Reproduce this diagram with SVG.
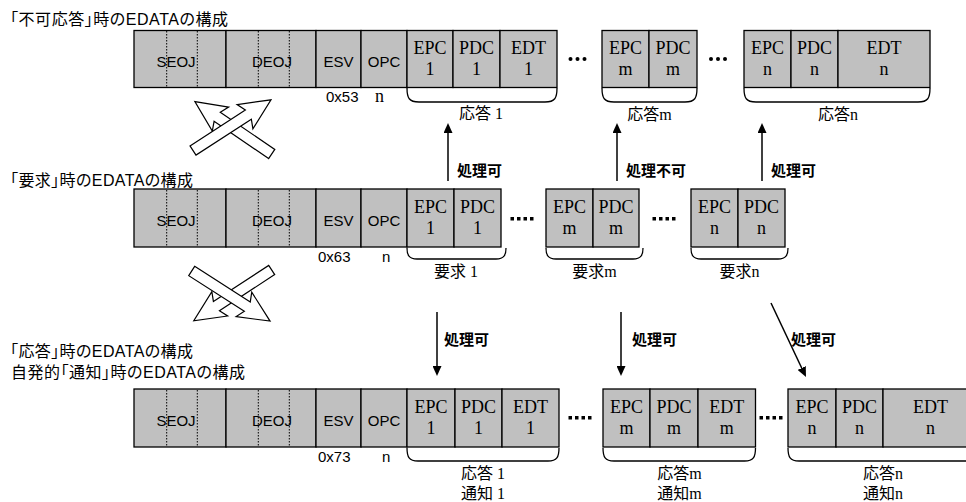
<svg xmlns="http://www.w3.org/2000/svg" width="966" height="502" viewBox="0 0 966 502">
<style>
.cell{fill:#c0c0c0;stroke:#000;stroke-width:1.3}
.dl{stroke:#000;stroke-width:1;stroke-dasharray:1.5 1.5}
.hd{font-family:"Liberation Sans",Arial,sans-serif;font-size:15px;fill:#000;text-anchor:middle}
.sub{font-family:"Liberation Sans",Arial,sans-serif;font-size:15px;fill:#000}
.ser{font-family:"Liberation Serif","Noto Sans CJK JP",serif;font-size:18px;fill:#000;text-anchor:middle}
.sern{font-family:"Liberation Serif",serif;font-size:18px;fill:#000}
.ttl{font-family:"Liberation Sans","Noto Sans CJK JP",sans-serif;font-size:16px;fill:#000;font-feature-settings:"palt"}
.jl{font-family:"Liberation Serif","Noto Sans CJK JP",serif;font-size:16px;fill:#000;text-anchor:middle}
.jb{font-family:"Noto Sans CJK JP",sans-serif;font-size:15px;font-weight:bold;fill:#000}
.brace{fill:none;stroke:#000;stroke-width:1.3}
.arr{stroke:#000;stroke-width:1.5;fill:none;marker-end:url(#ah)}
.hol{fill:#fff;stroke:#000;stroke-width:1.2;stroke-linejoin:miter}
.ell{fill:#000}
</style>
<defs>
<marker id="ah" markerUnits="userSpaceOnUse" markerWidth="10" markerHeight="9" viewBox="0 0 10 9" refX="0" refY="4.5" orient="auto">
<path d="M0,0 L10,4.5 L0,9 z" fill="#000"/>
</marker>
<polygon id="blk" points="0,-5.5 66,-5.5 62,-14.5 93,0 62,14.5 66,5.5 0,5.5"/>
</defs>

<g id="titles">
<text class="ttl" x="10" y="25" textLength="218" lengthAdjust="spacing">「不可応答」時のEDATAの構成</text>
<text class="ttl" x="10" y="186" textLength="183" lengthAdjust="spacing">「要求」時のEDATAの構成</text>
<text class="ttl" x="10" y="357" textLength="183" lengthAdjust="spacing">「応答」時のEDATAの構成</text>
<text class="ttl" x="11" y="378" textLength="234" lengthAdjust="spacing">自発的「通知」時のEDATAの構成</text>
</g>

<!-- top row -->
<g id="top-header">
<rect class="cell" x="134" y="30.5" width="92" height="57"/>
<rect class="cell" x="226" y="30.5" width="90" height="57"/>
<rect class="cell" x="316" y="30.5" width="45" height="57"/>
<rect class="cell" x="361" y="30.5" width="46" height="57"/>
<line class="dl" x1="166.7" y1="31" x2="166.7" y2="87"/>
<line class="dl" x1="197.3" y1="31" x2="197.3" y2="87"/>
<line class="dl" x1="258.3" y1="31" x2="258.3" y2="87"/>
<line class="dl" x1="289.3" y1="31" x2="289.3" y2="87"/>
<text class="hd" x="176" y="67">SEOJ</text>
<text class="hd" x="272" y="67">DEOJ</text>
<text class="hd" x="338.5" y="67">ESV</text>
<text class="hd" x="384" y="67">OPC</text>
<text class="sub" x="326" y="102">0x53</text>
<text class="sern" x="375" y="102">n</text>
</g>
<g id="top-prop1">
<rect class="cell" x="407" y="30.5" width="46" height="57"/>
<rect class="cell" x="453" y="30.5" width="47" height="57"/>
<rect class="cell" x="500" y="30.5" width="57" height="57"/>
<text class="ser" x="430" y="54">EPC</text><text class="ser" x="430" y="75">1</text>
<text class="ser" x="476.5" y="54">PDC</text><text class="ser" x="476.5" y="75">1</text>
<text class="ser" x="528.5" y="54">EDT</text><text class="ser" x="528.5" y="75">1</text>
<path class="brace" d="M407,88 C407,98 409,102 419,102 H545 C555,102 557,98 557,88"/>
<text class="jl" x="481" y="119">応答 1</text>
</g>
<g id="top-ell1"><circle class="ell" cx="570.5" cy="59" r="2"/><circle class="ell" cx="577.5" cy="59" r="2"/><circle class="ell" cx="584.5" cy="59" r="2"/></g>
<g id="top-propm">
<rect class="cell" x="602" y="30.5" width="47" height="57"/>
<rect class="cell" x="649" y="30.5" width="48" height="57"/>
<text class="ser" x="625.5" y="54">EPC</text><text class="ser" x="625.5" y="75">m</text>
<text class="ser" x="673" y="54">PDC</text><text class="ser" x="673" y="75">m</text>
<path class="brace" d="M602,88 C602,98 604,102 614,102 H685 C695,102 697,98 697,88"/>
<text class="jl" x="649.5" y="120">応答m</text>
</g>
<g id="top-ell2"><circle class="ell" cx="711" cy="59" r="2"/><circle class="ell" cx="718" cy="59" r="2"/><circle class="ell" cx="725" cy="59" r="2"/></g>
<g id="top-propn">
<rect class="cell" x="744" y="30.5" width="47" height="57"/>
<rect class="cell" x="791" y="30.5" width="47" height="57"/>
<rect class="cell" x="838" y="30.5" width="92" height="57"/>
<text class="ser" x="767.5" y="54">EPC</text><text class="ser" x="767.5" y="75">n</text>
<text class="ser" x="814.5" y="54">PDC</text><text class="ser" x="814.5" y="75">n</text>
<text class="ser" x="884" y="54">EDT</text><text class="ser" x="884" y="75">n</text>
<path class="brace" d="M744,88 C744,98 746,102 756,102 H918 C928,102 930,98 930,88"/>
<text class="jl" x="838" y="120">応答n</text>
</g>

<!-- middle row -->
<g id="mid-header">
<rect class="cell" x="134" y="189" width="92" height="58"/>
<rect class="cell" x="226" y="189" width="90" height="58"/>
<rect class="cell" x="316" y="189" width="45" height="58"/>
<rect class="cell" x="361" y="189" width="46" height="58"/>
<line class="dl" x1="166.7" y1="190" x2="166.7" y2="246"/>
<line class="dl" x1="197.3" y1="190" x2="197.3" y2="246"/>
<line class="dl" x1="258.3" y1="190" x2="258.3" y2="246"/>
<line class="dl" x1="289.3" y1="190" x2="289.3" y2="246"/>
<text class="hd" x="176" y="226">SEOJ</text>
<text class="hd" x="272" y="226">DEOJ</text>
<text class="hd" x="338.5" y="226">ESV</text>
<text class="hd" x="384" y="226">OPC</text>
<text class="sub" x="318" y="262">0x63</text>
<text class="sub" x="382" y="262">n</text>
</g>
<g id="mid-prop1">
<rect class="cell" x="407" y="189" width="47" height="58"/>
<rect class="cell" x="454" y="189" width="47" height="58"/>
<text class="ser" x="430.5" y="213">EPC</text><text class="ser" x="430.5" y="234">1</text>
<text class="ser" x="477.5" y="213">PDC</text><text class="ser" x="477.5" y="234">1</text>
<path class="brace" d="M407,248 C407,255 409,259 417,259 H496 C504,259 506,255 506,248"/>
<text class="jl" x="456" y="277">要求 1</text>
</g>
<g id="mid-ell1"><rect class="ell" x="510.5" y="217" width="3.5" height="3.5"/><rect class="ell" x="517" y="217" width="3.5" height="3.5"/><rect class="ell" x="523.5" y="217" width="3.5" height="3.5"/><rect class="ell" x="530" y="217" width="3.5" height="3.5"/></g>
<g id="mid-propm">
<rect class="cell" x="546" y="189" width="47" height="58"/>
<rect class="cell" x="593" y="189" width="46" height="58"/>
<text class="ser" x="569.5" y="213">EPC</text><text class="ser" x="569.5" y="234">m</text>
<text class="ser" x="616" y="213">PDC</text><text class="ser" x="616" y="234">m</text>
<path class="brace" d="M546,248 C546,255 548,259 556,259 H633 C641,259 643,255 643,248"/>
<text class="jl" x="594.5" y="277">要求m</text>
</g>
<g id="mid-ell2"><rect class="ell" x="652.5" y="217" width="3.5" height="3.5"/><rect class="ell" x="659" y="217" width="3.5" height="3.5"/><rect class="ell" x="665.5" y="217" width="3.5" height="3.5"/><rect class="ell" x="672" y="217" width="3.5" height="3.5"/></g>
<g id="mid-propn">
<rect class="cell" x="691" y="189" width="47" height="58"/>
<rect class="cell" x="738" y="189" width="47" height="58"/>
<text class="ser" x="714.5" y="213">EPC</text><text class="ser" x="714.5" y="234">n</text>
<text class="ser" x="761.5" y="213">PDC</text><text class="ser" x="761.5" y="234">n</text>
<path class="brace" d="M691,248 C691,255 693,259 701,259 H778 C786,259 788,255 788,248"/>
<text class="jl" x="739.5" y="277">要求n</text>
</g>

<!-- bottom row -->
<g id="bot-header">
<rect class="cell" x="134" y="389" width="92" height="58"/>
<rect class="cell" x="226" y="389" width="90" height="58"/>
<rect class="cell" x="316" y="389" width="45" height="58"/>
<rect class="cell" x="361" y="389" width="46" height="58"/>
<line class="dl" x1="166.7" y1="390" x2="166.7" y2="446"/>
<line class="dl" x1="197.3" y1="390" x2="197.3" y2="446"/>
<line class="dl" x1="258.3" y1="390" x2="258.3" y2="446"/>
<line class="dl" x1="289.3" y1="390" x2="289.3" y2="446"/>
<text class="hd" x="176" y="426">SEOJ</text>
<text class="hd" x="272" y="426">DEOJ</text>
<text class="hd" x="338.5" y="426">ESV</text>
<text class="hd" x="384" y="426">OPC</text>
<text class="sub" x="318" y="462">0x73</text>
<text class="sub" x="382" y="462">n</text>
</g>
<g id="bot-prop1">
<rect class="cell" x="407" y="389" width="48" height="58"/>
<rect class="cell" x="455" y="389" width="47" height="58"/>
<rect class="cell" x="502" y="389" width="57" height="58"/>
<text class="ser" x="431" y="413">EPC</text><text class="ser" x="431" y="434">1</text>
<text class="ser" x="478.5" y="413">PDC</text><text class="ser" x="478.5" y="434">1</text>
<text class="ser" x="530.5" y="413">EDT</text><text class="ser" x="530.5" y="434">1</text>
<path class="brace" d="M407,448 C407,457 409,461 418,461 H548 C557,461 559,457 559,448"/>
<text class="jl" x="483" y="479">応答 1</text>
<text class="jl" x="483" y="499">通知 1</text>
</g>
<g id="bot-ell1"><rect class="ell" x="568.5" y="416" width="3.5" height="3.5"/><rect class="ell" x="575" y="416" width="3.5" height="3.5"/><rect class="ell" x="581.5" y="416" width="3.5" height="3.5"/><rect class="ell" x="588" y="416" width="3.5" height="3.5"/></g>
<g id="bot-propm">
<rect class="cell" x="603" y="389" width="47" height="58"/>
<rect class="cell" x="650" y="389" width="48" height="58"/>
<rect class="cell" x="698" y="389" width="57.5" height="58"/>
<text class="ser" x="626.5" y="413">EPC</text><text class="ser" x="626.5" y="434">m</text>
<text class="ser" x="674" y="413">PDC</text><text class="ser" x="674" y="434">m</text>
<text class="ser" x="726.7" y="413">EDT</text><text class="ser" x="726.7" y="434">m</text>
<path class="brace" d="M603,448 C603,457 605,461 614,461 H744.5 C753.5,461 755.5,457 755.5,448"/>
<text class="jl" x="679.5" y="479">応答m</text>
<text class="jl" x="679.5" y="499">通知m</text>
</g>
<g id="bot-ell2"><rect class="ell" x="759.5" y="416" width="3.5" height="3.5"/><rect class="ell" x="766" y="416" width="3.5" height="3.5"/><rect class="ell" x="772.5" y="416" width="3.5" height="3.5"/><rect class="ell" x="779" y="416" width="3.5" height="3.5"/></g>
<g id="bot-propn">
<rect class="cell" x="788" y="389" width="48" height="58"/>
<rect class="cell" x="836" y="389" width="47" height="58"/>
<rect class="cell" x="883" y="389" width="95" height="58"/>
<text class="ser" x="812" y="413">EPC</text><text class="ser" x="812" y="434">n</text>
<text class="ser" x="859.5" y="413">PDC</text><text class="ser" x="859.5" y="434">n</text>
<text class="ser" x="930.5" y="413">EDT</text><text class="ser" x="930.5" y="434">n</text>
<path class="brace" d="M788,448 C788,457 790,461 799,461 H967 C976,461 978,457 978,448"/>
<text class="jl" x="883" y="479">応答n</text>
<text class="jl" x="883" y="499">通知n</text>
</g>

<g id="connectors">
<line class="arr" x1="448" y1="181" x2="448" y2="133"/>
<line class="arr" x1="617" y1="181" x2="617" y2="133"/>
<line class="arr" x1="762" y1="181" x2="762" y2="133"/>
<line class="arr" x1="437" y1="312" x2="437" y2="366"/>
<line class="arr" x1="621" y1="312" x2="621" y2="366"/>
<line class="arr" x1="771" y1="303" x2="801.7" y2="368"/>
<text class="jb" x="457" y="176">処理可</text>
<text class="jb" x="626" y="176">処理不可</text>
<text class="jb" x="771" y="176">処理可</text>
<text class="jb" x="444" y="345">処理可</text>
<text class="jb" x="632" y="345">処理可</text>
<text class="jb" x="791" y="345">処理可</text>
<use href="#blk" class="hol" transform="translate(271.7,154) rotate(214.3)"/>
<use href="#blk" class="hol" transform="translate(193,150.5) rotate(-33)"/>
<use href="#blk" class="hol" transform="translate(271.7,270) rotate(146.9)"/>
<use href="#blk" class="hol" transform="translate(191.7,271) rotate(32.6)"/>
</g>
</svg>
